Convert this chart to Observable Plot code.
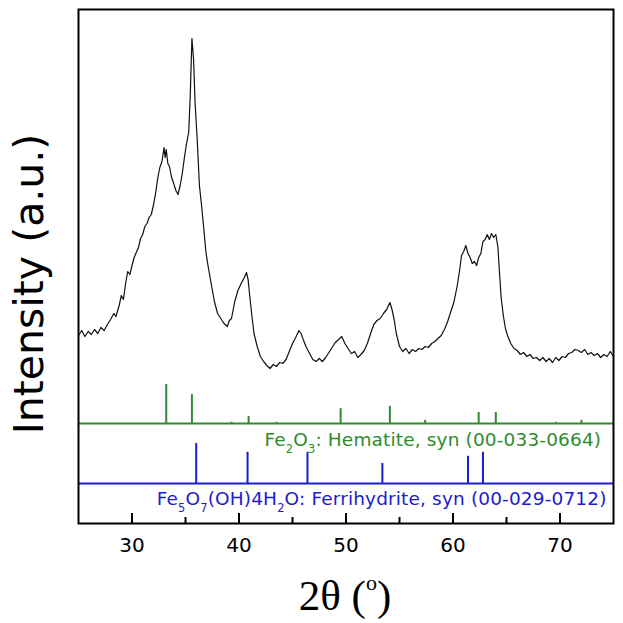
<!DOCTYPE html>
<html>
<head>
<meta charset="utf-8">
<script src="https://cdn.jsdelivr.net/npm/d3@7"></script>
<script src="https://cdn.jsdelivr.net/npm/@observablehq/plot@0.6"></script>
<style>
  html, body { margin: 0; padding: 0; background: #fff; }
  #chart { width: 623px; height: 623px; }
</style>
</head>
<body>
<div id="chart"></div>
<script>
// ---- Data ----
// XRD pattern: 2θ (degrees) and intensity (a.u.)
const twoTheta = [
  25.0,25.3,25.6,25.9,26.2,26.5,26.8,27.1,27.4,27.7,28.0,28.3,28.5,28.8,29.0,29.2,29.4,29.6,29.8,30.0,
  30.2,30.4,30.6,30.8,31.0,31.2,31.4,31.6,31.8,32.0,32.2,32.4,32.6,32.8,33.0,33.1,33.2,33.35,33.5,33.7,
  33.9,34.1,34.3,34.5,34.7,34.9,35.1,35.3,35.45,35.6,35.75,35.9,36.1,36.3,36.5,36.7,36.9,37.1,37.4,37.7,
  38.0,38.3,38.6,38.9,39.1,39.3,39.6,39.9,40.2,40.5,40.7,40.85,41.0,41.2,41.4,41.7,42.0,42.3,42.6,42.9,
  43.2,43.5,43.8,44.1,44.4,44.7,45.0,45.3,45.6,45.8,46.0,46.3,46.6,46.9,47.2,47.5,47.8,48.1,48.4,48.7,
  49.0,49.3,49.6,49.9,50.2,50.5,50.8,51.1,51.4,51.7,52.0,52.3,52.6,52.9,53.2,53.5,53.8,54.1,54.3,54.5,
  54.7,55.0,55.3,55.6,55.9,56.2,56.5,56.8,57.1,57.4,57.7,58.0,58.3,58.6,58.9,59.2,59.5,59.8,60.1,60.4,
  60.6,60.8,61.0,61.2,61.4,61.6,61.8,62.0,62.2,62.4,62.6,62.8,63.0,63.2,63.4,63.6,63.8,64.0,64.2,64.35,
  64.5,64.7,64.9,65.1,65.4,65.7,66.0,66.3,66.6,66.9,67.2,67.5,67.8,68.1,68.4,68.7,69.0,69.3,69.6,69.9,
  70.2,70.5,70.8,71.1,71.4,71.7,72.0,72.3,72.6,72.9,73.2,73.5,73.8,74.1,74.4,74.7,75.0
];
const intensity = [
  188,193,187,192,189,194,190,196,193,199,204,210,207,218,228,224,240,252,249,258,
  266,271,276,285,289,297,300,306,309,318,330,345,356,362,376,366,374,360,357,346,
  340,333,329,338,350,366,380,391,430,485,465,420,383,338,318,296,272,258,240,222,
  210,205,200,197,203,205,222,233,240,246,251,244,228,208,190,177,167,162,158,155,
  159,157,161,160,164,172,180,186,193,190,184,176,170,164,162,165,162,166,171,176,
  181,184,187,180,175,170,172,166,169,173,180,190,199,203,205,210,214,221,214,204,
  190,177,172,175,170,174,172,175,174,177,176,180,182,185,188,194,202,212,222,238,
  252,268,272,278,270,266,260,262,258,266,270,282,284,289,284,290,286,289,276,250,
  226,208,195,188,180,175,173,169,171,167,169,165,166,163,166,162,165,161,166,163,
  167,166,170,171,174,173,171,174,169,171,168,170,166,169,167,172,167
];

// Reference pattern: Fe2O3 Hematite, syn (00-033-0664)
const hematitePos = [33.2, 35.6, 39.3, 40.9, 43.5, 49.5, 54.1, 57.4, 62.4, 64.0, 69.6, 72.0];
const hematiteRel = [100, 74, 3, 18, 3, 38, 44, 8, 28, 28, 3, 8];
// Reference pattern: Fe5O7(OH)4H2O Ferrihydrite, syn (00-029-0712)
const ferriPos = [36.0, 40.8, 46.4, 53.4, 61.4, 62.8];
const ferriRel = [100, 78, 78, 50, 68, 78];

const xTicks = [30, 40, 50, 60, 70];
const xMinorTicks = [35, 45, 55, 65];

// ---- Layout constants ----
const hemBase = 100, ferBase = 40;       // stacked offsets of the reference patterns
const hemScale = 0.39, ferScale = 0.40;  // stick height per % relative intensity
const green = "#2e8b2e", blue = "#1c1cd0";

const curve = twoTheta.map((t, i) => ({t, I: intensity[i]}));
const hem = hematitePos.map((t, i) => ({t, r: hematiteRel[i]}));
const fer = ferriPos.map((t, i) => ({t, r: ferriRel[i]}));

const chart = Plot.plot({
  width: 623,
  height: 623,
  marginLeft: 78,
  marginRight: 10,
  marginTop: 9,
  marginBottom: 100,
  style: {fontFamily: "DejaVu Sans, sans-serif", fontSize: "20px", color: "black", background: "white"},
  x: {domain: [25, 75], ticks: xTicks, tickSize: 0, tickPadding: 14, label: null},
  y: {domain: [0, 514], axis: null},
  marks: [
    Plot.line(curve, {x: "t", y: "I", stroke: "#111", strokeWidth: 1.2}),
    Plot.ruleY([hemBase], {stroke: green, strokeWidth: 2}),
    Plot.ruleX(hem, {x: "t", y1: hemBase, y2: d => hemBase + d.r * hemScale, stroke: green, strokeWidth: 2}),
    Plot.ruleY([ferBase], {stroke: blue, strokeWidth: 2}),
    Plot.ruleX(fer, {x: "t", y1: ferBase, y2: d => ferBase + d.r * ferScale, stroke: blue, strokeWidth: 2}),
    Plot.ruleX(xTicks, {x: d => d, y1: 0, y2: 10, stroke: "black", strokeWidth: 2}),
    Plot.ruleX(xMinorTicks, {x: d => d, y1: 0, y2: 6, stroke: "black", strokeWidth: 2}),
    Plot.frame({stroke: "black", strokeWidth: 2})
  ]
});

document.getElementById("chart").appendChild(chart);

const svg = d3.select(chart);
const xs = chart.scale("x");
const ys = chart.scale("y");

function richText(parts, x, y, opts) {
  const t = svg.append("text")
    .attr("x", x).attr("y", y)
    .attr("text-anchor", opts.anchor || "start")
    .attr("fill", opts.fill)
    .style("font-family", opts.family)
    .style("font-size", opts.size + "px")
    .style("letter-spacing", (opts.spacing || 0) + "px");
  parts.forEach(p => {
    const s = t.append("tspan").text(p.s);
    if (p.sub) s.attr("dy", opts.size * 0.4).style("font-size", (opts.size * 0.62) + "px");
    if (p.back) s.attr("dy", p.back);
  });
  return t;
}

// Reference pattern labels
const fs = 18.5;
richText([
  {s: "Fe"}, {s: "2", sub: true}, {s: "O", back: -fs * 0.4}, {s: "3", sub: true},
  {s: ": Hematite, syn (00-033-0664)", back: -fs * 0.4}
], xs.apply(73.9), ys.apply(hemBase) + 23, {anchor: "end", fill: green, family: "DejaVu Sans, sans-serif", size: fs, spacing: 0.15});

richText([
  {s: "Fe"}, {s: "5", sub: true}, {s: "O", back: -fs * 0.4}, {s: "7", sub: true},
  {s: "(OH)4H", back: -fs * 0.4}, {s: "2", sub: true}, {s: "O: Ferrihydrite, syn (00-029-0712)", back: -fs * 0.4}
], xs.apply(74.4), ys.apply(ferBase) + 22, {anchor: "end", fill: blue, family: "DejaVu Sans, sans-serif", size: fs, spacing: 0.15});

// Axis titles
svg.append("text")
  .attr("transform", "translate(43,284) rotate(-90)")
  .attr("text-anchor", "middle")
  .attr("fill", "black")
  .style("font-family", "DejaVu Sans, sans-serif")
  .style("font-size", "41px")
  .text("Intensity (a.u.)");

const xl = svg.append("text")
  .attr("x", 345).attr("y", 610)
  .attr("text-anchor", "middle")
  .attr("fill", "black")
  .style("font-family", "Liberation Serif, Times New Roman, serif")
  .style("font-size", "43px");
xl.append("tspan").text("2θ (");
xl.append("tspan").attr("dy", -20).style("font-size", "22px").text("o");
xl.append("tspan").attr("dy", 20).text(")");
</script>
</body>
</html>
